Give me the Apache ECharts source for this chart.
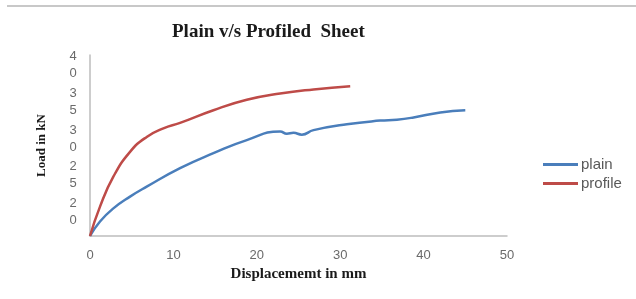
<!DOCTYPE html>
<html>
<head>
<meta charset="utf-8">
<script src="https://cdn.jsdelivr.net/npm/echarts@6/dist/echarts.min.js"></script>
<style>
  html, body { margin: 0; padding: 0; background: #fff; }
  #topline { position: absolute; left: 7px; right: 0; top: 5px; height: 2px; background: #c8c8c8; }
  #chart { width: 636px; height: 299px; }
</style>
</head>
<body>
<div id="topline"></div>
<div id="chart"></div>
<script>
// displacement (mm) / load (kN)
const plainX = [0, 1.2, 2.8, 4.8, 6.8, 10.8, 14.8, 18.8, 22.8, 23.6, 24.4, 25.4, 26.8, 30.8, 34.8, 36.8, 38.8, 42.0, 45.0];
const plainY = [0, 3.2, 6.1, 8.7, 10.9, 15.0, 18.3, 21.2, 23.1, 22.6, 22.8, 22.4, 23.4, 24.7, 25.5, 25.7, 26.2, 27.3, 27.8];
const profileX = [0, 1.2, 2.8, 4.8, 6.8, 8.8, 10.8, 14.8, 18.8, 22.8, 26.8, 31.2];
const profileY = [0, 6.5, 13.1, 18.6, 21.9, 23.8, 25.0, 27.8, 30.1, 31.5, 32.4, 33.1];
const loadTicks = [20, 25, 30, 35, 40];
const dispTicks = [0, 10, 20, 30, 40, 50];

const pairs = (xs, ys) => xs.map((x, i) => [x, ys[i]]);

const chart = echarts.init(document.getElementById('chart'));
chart.setOption({
    animation: false,
    title: {
        text: 'Plain v/s Profiled  Sheet',
        left: 167,
        top: 18,
        textStyle: { fontFamily: 'Liberation Serif', fontWeight: 'bold', fontSize: 19, color: '#1a1a1a' }
    },
    legend: {
        orient: 'vertical',
        left: 538,
        top: 152,
        icon: 'rect',
        itemWidth: 35,
        itemHeight: 3,
        itemGap: 4,
        textStyle: { fontFamily: 'Liberation Sans', fontSize: 15, color: '#595959', padding: [0, 0, 0, -2] },
        data: ['plain', 'profile']
    },
    grid: { left: 90, right: 129, top: 55, bottom: 63 },
    xAxis: {
        type: 'value',
        min: 0,
        max: 50,
        interval: 10,
        name: 'Displacememt in mm',
        nameLocation: 'middle',
        nameGap: 24,
        nameTextStyle: { fontFamily: 'Liberation Serif', fontWeight: 'bold', fontSize: 15, color: '#1a1a1a' },
        axisLine: { lineStyle: { color: '#bdbdbd', width: 1.5 } },
        axisTick: { show: false },
        splitLine: { show: false },
        axisLabel: {
            customValues: dispTicks,
            margin: 13,
            fontFamily: 'Liberation Sans',
            fontSize: 13,
            color: '#6a6a6a'
        }
    },
    yAxis: [{
        type: 'value',
        min: 0,
        max: 40,
        name: 'Load in kN',
        nameLocation: 'middle',
        nameGap: 42,
        nameTextStyle: { fontFamily: 'Liberation Serif', fontWeight: 'bold', fontSize: 13, color: '#1a1a1a' },
        axisLine: { show: true, lineStyle: { color: '#bdbdbd', width: 1.5 } },
        axisTick: { show: false },
        axisLabel: { show: false },
        splitLine: { show: false }
    }, {
        // squeezed tick labels as they appear in the picture
        type: 'value',
        position: 'left',
        min: 16.77,
        max: 41.36,
        axisLine: { show: false },
        axisTick: { show: false },
        splitLine: { show: false },
        axisLabel: {
            customValues: loadTicks,
            formatter: v => String(v).split('').join('\n'),
            margin: 17,
            align: 'center',
            lineHeight: 17,
            fontFamily: 'Liberation Sans',
            fontSize: 13,
            color: '#6a6a6a'
        }
    }],
    series: [{
        name: 'plain',
        type: 'line',
        smooth: true,
        showSymbol: false,
        color: '#4a7ebb',
        lineStyle: { width: 2.5 },
        data: pairs(plainX, plainY)
    }, {
        name: 'profile',
        type: 'line',
        smooth: true,
        showSymbol: false,
        color: '#be4b48',
        lineStyle: { width: 2.5 },
        data: pairs(profileX, profileY)
    }]
});
</script>
</body>
</html>
